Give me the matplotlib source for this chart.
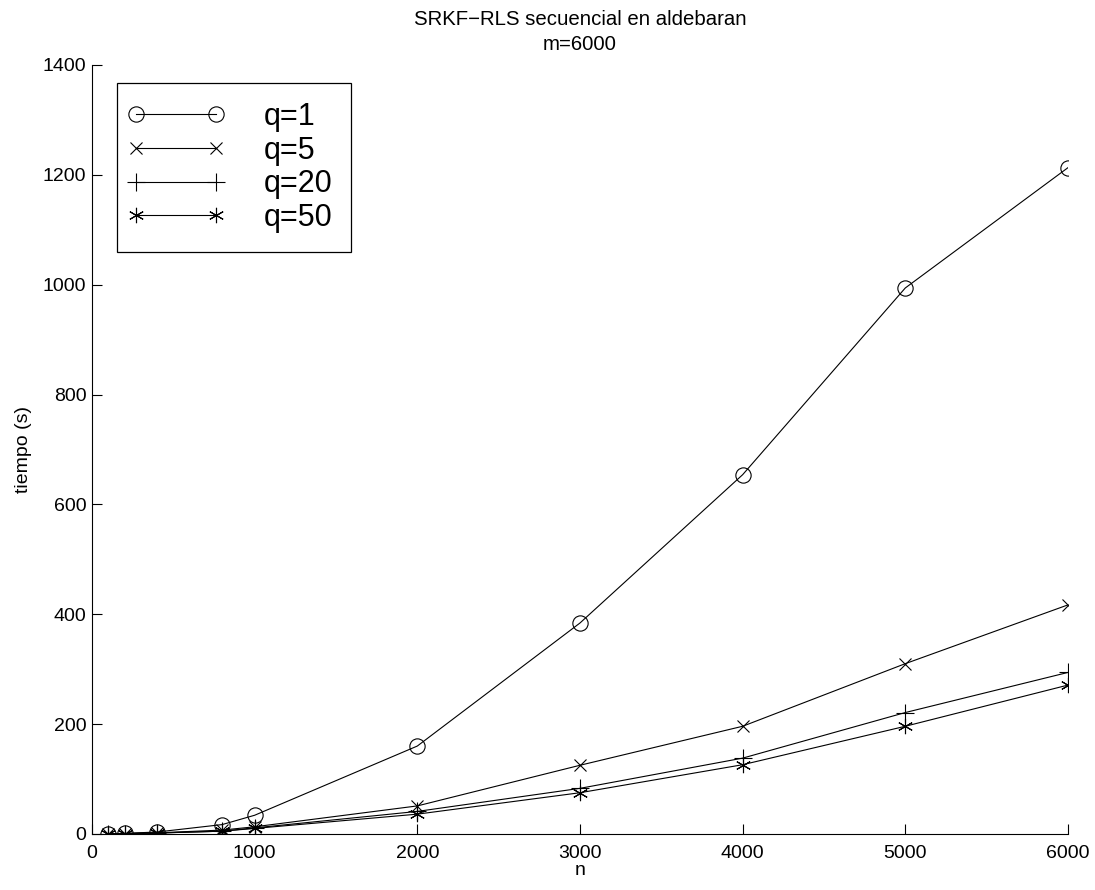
import matplotlib
matplotlib.use("Agg")
import matplotlib.pyplot as plt
from matplotlib.legend_handler import HandlerLine2D

plt.rcParams["font.family"] = ["Liberation Sans", "DejaVu Sans"]

# tiempos de ejecucion (s) frente al tamano n, m=6000
n = [100, 200, 400, 800, 1000, 2000, 3000, 4000, 5000, 6000]
t_q1 = [0.4, 1.0, 3.5, 17, 34, 160, 384, 654, 994, 1213]
t_q5 = [0.2, 0.6, 2.0, 7, 13, 51, 125, 196, 310, 417]
t_q20 = [0.2, 0.5, 1.7, 5, 11, 41, 83, 138, 221, 294]
t_q50 = [0.2, 0.5, 1.6, 5, 10, 36, 75, 126, 196, 271]

series = [
    (t_q1, "o", 11, "q=1"),
    (t_q5, "x", 8, "q=5"),
    (t_q20, "+", 13, "q=20"),
    (t_q50, (6, 2, 0), 11, "q=50"),
]

fig = plt.figure(figsize=(10.95, 8.9), dpi=100)
ax = fig.add_axes([0.084, 0.063, 0.8913, 0.864])

for vals, mk, ms, label in series:
    ax.plot(n, vals, color="black", linewidth=0.8, marker=mk, markersize=ms,
            markerfacecolor="none", markeredgecolor="black",
            markeredgewidth=0.8, label=label)

ax.set_xlim(0, 6000)
ax.set_ylim(0, 1400)
ax.set_xticks(range(0, 6001, 1000))
ax.set_yticks(range(0, 1401, 200))

ax.spines["top"].set_visible(False)
ax.spines["right"].set_visible(False)
for sp in ["left", "bottom"]:
    ax.spines[sp].set_linewidth(0.8)
ax.tick_params(direction="in", length=7, width=0.8, labelsize=14)
ax.tick_params(axis="x", pad=8)
ax.tick_params(axis="y", pad=4)

ax.set_xlabel("n", fontsize=14, labelpad=0)
ax.set_ylabel("tiempo (s)", fontsize=14, labelpad=8)
ax.set_title("SRKF\u2212RLS secuencial en aldebaran\nm=6000", fontsize=14.7,
             pad=11, linespacing=1.35)

# markers sit right at the ends of each legend line
hmap = {ln: HandlerLine2D(marker_pad=0) for ln in ax.get_lines()}
leg = ax.legend(loc="upper left", bbox_to_anchor=(0.0256, 0.9766),
                borderaxespad=0, fontsize=22, numpoints=2, handlelength=2.62,
                handletextpad=1.55, labelspacing=0.12, borderpad=0.62,
                fancybox=False, framealpha=1, edgecolor="black",
                handler_map=hmap)
leg.get_frame().set_linewidth(0.9)

fig.savefig("out.png", dpi=100)
